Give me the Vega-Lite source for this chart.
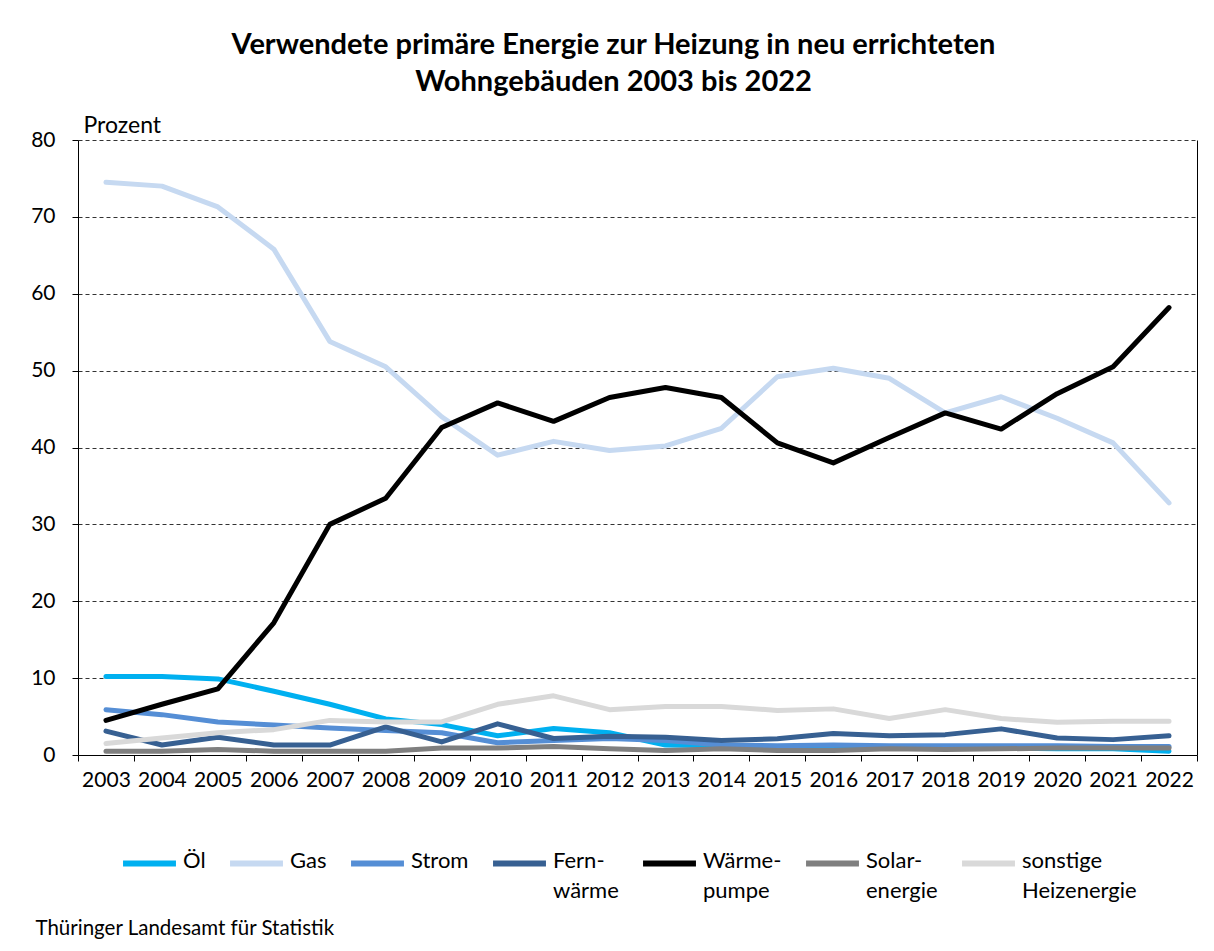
{
  "$schema": "https://vega.github.io/schema/vega-lite/v6.json",
  "width": 1119,
  "height": 615,
  "autosize": {"type": "none"},
  "padding": {"left": 78, "top": 140, "right": 17, "bottom": 196},
  "background": "white",
  "config": {
    "font": "Lato",
    "view": {"stroke": null},
    "axis": {"labelFont": "Lato", "titleFont": "Lato", "labelColor": "black", "titleColor": "black"}
  },
  "title": {
    "text": ["Verwendete primäre Energie zur Heizung in neu errichteten", "Wohngebäuden 2003 bis 2022"],
    "font": "Lato",
    "fontSize": 29,
    "fontWeight": "bold",
    "lineHeight": 37,
    "color": "black",
    "anchor": "middle",
    "dx": -24,
    "offset": 17
  },
  "data": {"values": [
    {"year": "2003", "s": "Öl", "v": 10.2}, {"year": "2004", "s": "Öl", "v": 10.2}, {"year": "2005", "s": "Öl", "v": 9.9}, {"year": "2006", "s": "Öl", "v": 8.3}, {"year": "2007", "s": "Öl", "v": 6.6}, {"year": "2008", "s": "Öl", "v": 4.7}, {"year": "2009", "s": "Öl", "v": 3.95}, {"year": "2010", "s": "Öl", "v": 2.5}, {"year": "2011", "s": "Öl", "v": 3.45}, {"year": "2012", "s": "Öl", "v": 2.9}, {"year": "2013", "s": "Öl", "v": 1.3}, {"year": "2014", "s": "Öl", "v": 1.2}, {"year": "2015", "s": "Öl", "v": 1.0}, {"year": "2016", "s": "Öl", "v": 1.2}, {"year": "2017", "s": "Öl", "v": 0.9}, {"year": "2018", "s": "Öl", "v": 0.9}, {"year": "2019", "s": "Öl", "v": 0.9}, {"year": "2020", "s": "Öl", "v": 0.8}, {"year": "2021", "s": "Öl", "v": 0.8}, {"year": "2022", "s": "Öl", "v": 0.5},
    {"year": "2003", "s": "Gas", "v": 74.5}, {"year": "2004", "s": "Gas", "v": 74.0}, {"year": "2005", "s": "Gas", "v": 71.3}, {"year": "2006", "s": "Gas", "v": 65.8}, {"year": "2007", "s": "Gas", "v": 53.8}, {"year": "2008", "s": "Gas", "v": 50.5}, {"year": "2009", "s": "Gas", "v": 44.0}, {"year": "2010", "s": "Gas", "v": 39.0}, {"year": "2011", "s": "Gas", "v": 40.8}, {"year": "2012", "s": "Gas", "v": 39.6}, {"year": "2013", "s": "Gas", "v": 40.2}, {"year": "2014", "s": "Gas", "v": 42.5}, {"year": "2015", "s": "Gas", "v": 49.2}, {"year": "2016", "s": "Gas", "v": 50.3}, {"year": "2017", "s": "Gas", "v": 49.0}, {"year": "2018", "s": "Gas", "v": 44.5}, {"year": "2019", "s": "Gas", "v": 46.6}, {"year": "2020", "s": "Gas", "v": 43.8}, {"year": "2021", "s": "Gas", "v": 40.6}, {"year": "2022", "s": "Gas", "v": 32.8},
    {"year": "2003", "s": "Strom", "v": 5.9}, {"year": "2004", "s": "Strom", "v": 5.25}, {"year": "2005", "s": "Strom", "v": 4.3}, {"year": "2006", "s": "Strom", "v": 3.9}, {"year": "2007", "s": "Strom", "v": 3.5}, {"year": "2008", "s": "Strom", "v": 3.2}, {"year": "2009", "s": "Strom", "v": 2.9}, {"year": "2010", "s": "Strom", "v": 1.6}, {"year": "2011", "s": "Strom", "v": 1.9}, {"year": "2012", "s": "Strom", "v": 2.15}, {"year": "2013", "s": "Strom", "v": 1.9}, {"year": "2014", "s": "Strom", "v": 1.3}, {"year": "2015", "s": "Strom", "v": 1.2}, {"year": "2016", "s": "Strom", "v": 1.3}, {"year": "2017", "s": "Strom", "v": 1.2}, {"year": "2018", "s": "Strom", "v": 1.2}, {"year": "2019", "s": "Strom", "v": 1.2}, {"year": "2020", "s": "Strom", "v": 1.2}, {"year": "2021", "s": "Strom", "v": 1.1}, {"year": "2022", "s": "Strom", "v": 1.1},
    {"year": "2003", "s": "Fernwärme", "v": 3.1}, {"year": "2004", "s": "Fernwärme", "v": 1.3}, {"year": "2005", "s": "Fernwärme", "v": 2.3}, {"year": "2006", "s": "Fernwärme", "v": 1.3}, {"year": "2007", "s": "Fernwärme", "v": 1.3}, {"year": "2008", "s": "Fernwärme", "v": 3.65}, {"year": "2009", "s": "Fernwärme", "v": 1.7}, {"year": "2010", "s": "Fernwärme", "v": 4.05}, {"year": "2011", "s": "Fernwärme", "v": 2.15}, {"year": "2012", "s": "Fernwärme", "v": 2.45}, {"year": "2013", "s": "Fernwärme", "v": 2.3}, {"year": "2014", "s": "Fernwärme", "v": 1.9}, {"year": "2015", "s": "Fernwärme", "v": 2.1}, {"year": "2016", "s": "Fernwärme", "v": 2.8}, {"year": "2017", "s": "Fernwärme", "v": 2.5}, {"year": "2018", "s": "Fernwärme", "v": 2.65}, {"year": "2019", "s": "Fernwärme", "v": 3.4}, {"year": "2020", "s": "Fernwärme", "v": 2.2}, {"year": "2021", "s": "Fernwärme", "v": 2.0}, {"year": "2022", "s": "Fernwärme", "v": 2.5},
    {"year": "2003", "s": "Wärmepumpe", "v": 4.5}, {"year": "2004", "s": "Wärmepumpe", "v": 6.6}, {"year": "2005", "s": "Wärmepumpe", "v": 8.6}, {"year": "2006", "s": "Wärmepumpe", "v": 17.2}, {"year": "2007", "s": "Wärmepumpe", "v": 30.0}, {"year": "2008", "s": "Wärmepumpe", "v": 33.4}, {"year": "2009", "s": "Wärmepumpe", "v": 42.6}, {"year": "2010", "s": "Wärmepumpe", "v": 45.8}, {"year": "2011", "s": "Wärmepumpe", "v": 43.4}, {"year": "2012", "s": "Wärmepumpe", "v": 46.5}, {"year": "2013", "s": "Wärmepumpe", "v": 47.8}, {"year": "2014", "s": "Wärmepumpe", "v": 46.5}, {"year": "2015", "s": "Wärmepumpe", "v": 40.6}, {"year": "2016", "s": "Wärmepumpe", "v": 38.0}, {"year": "2017", "s": "Wärmepumpe", "v": 41.3}, {"year": "2018", "s": "Wärmepumpe", "v": 44.5}, {"year": "2019", "s": "Wärmepumpe", "v": 42.4}, {"year": "2020", "s": "Wärmepumpe", "v": 47.0}, {"year": "2021", "s": "Wärmepumpe", "v": 50.5}, {"year": "2022", "s": "Wärmepumpe", "v": 58.2},
    {"year": "2003", "s": "Solarenergie", "v": 0.5}, {"year": "2004", "s": "Solarenergie", "v": 0.5}, {"year": "2005", "s": "Solarenergie", "v": 0.7}, {"year": "2006", "s": "Solarenergie", "v": 0.5}, {"year": "2007", "s": "Solarenergie", "v": 0.5}, {"year": "2008", "s": "Solarenergie", "v": 0.5}, {"year": "2009", "s": "Solarenergie", "v": 0.9}, {"year": "2010", "s": "Solarenergie", "v": 0.9}, {"year": "2011", "s": "Solarenergie", "v": 1.1}, {"year": "2012", "s": "Solarenergie", "v": 0.8}, {"year": "2013", "s": "Solarenergie", "v": 0.6}, {"year": "2014", "s": "Solarenergie", "v": 0.8}, {"year": "2015", "s": "Solarenergie", "v": 0.6}, {"year": "2016", "s": "Solarenergie", "v": 0.6}, {"year": "2017", "s": "Solarenergie", "v": 0.8}, {"year": "2018", "s": "Solarenergie", "v": 0.7}, {"year": "2019", "s": "Solarenergie", "v": 0.8}, {"year": "2020", "s": "Solarenergie", "v": 0.9}, {"year": "2021", "s": "Solarenergie", "v": 0.9}, {"year": "2022", "s": "Solarenergie", "v": 0.9},
    {"year": "2003", "s": "sonstige Heizenergie", "v": 1.5}, {"year": "2004", "s": "sonstige Heizenergie", "v": 2.2}, {"year": "2005", "s": "sonstige Heizenergie", "v": 2.9}, {"year": "2006", "s": "sonstige Heizenergie", "v": 3.3}, {"year": "2007", "s": "sonstige Heizenergie", "v": 4.5}, {"year": "2008", "s": "sonstige Heizenergie", "v": 4.3}, {"year": "2009", "s": "sonstige Heizenergie", "v": 4.3}, {"year": "2010", "s": "sonstige Heizenergie", "v": 6.6}, {"year": "2011", "s": "sonstige Heizenergie", "v": 7.7}, {"year": "2012", "s": "sonstige Heizenergie", "v": 5.9}, {"year": "2013", "s": "sonstige Heizenergie", "v": 6.3}, {"year": "2014", "s": "sonstige Heizenergie", "v": 6.3}, {"year": "2015", "s": "sonstige Heizenergie", "v": 5.8}, {"year": "2016", "s": "sonstige Heizenergie", "v": 6.0}, {"year": "2017", "s": "sonstige Heizenergie", "v": 4.75}, {"year": "2018", "s": "sonstige Heizenergie", "v": 5.9}, {"year": "2019", "s": "sonstige Heizenergie", "v": 4.75}, {"year": "2020", "s": "sonstige Heizenergie", "v": 4.25}, {"year": "2021", "s": "sonstige Heizenergie", "v": 4.4}, {"year": "2022", "s": "sonstige Heizenergie", "v": 4.4}
  ]},
  "layer": [
    {
      "mark": {"type": "line", "strokeWidth": 5, "strokeJoin": "round", "strokeCap": "round"},
      "encoding": {
        "x": {
          "field": "year", "type": "ordinal", "bandPosition": 0.5,
          "scale": {"type": "band", "paddingInner": 0, "paddingOuter": 0},
          "axis": {
            "title": "Thüringer Landesamt für Statistik",
            "titleX": -43, "titleY": 173, "titleAlign": "left", "titleBaseline": "middle",
            "titleFontSize": 20.5, "titleFontWeight": "normal",
            "labelAngle": 0, "labelFontSize": 21, "labelPadding": 8,
            "tickBand": "extent", "tickSize": 6, "tickColor": "black", "domainColor": "black",
            "grid": false
          }
        },
        "y": {
          "field": "v", "type": "quantitative",
          "scale": {"domain": [0, 80], "nice": false, "zero": true},
          "axis": {
            "values": [0, 10, 20, 30, 40, 50, 60, 70, 80],
            "title": "Prozent", "titleAngle": 0, "titleX": 5, "titleY": -15,
            "titleAlign": "left", "titleBaseline": "middle", "titleFontSize": 23, "titleFontWeight": "normal",
            "labelFontSize": 21, "labelPadding": 17, "tickSize": 6, "tickColor": "black", "domainColor": "black",
            "grid": true, "gridColor": "#333333", "gridDash": [4, 3], "gridWidth": 1
          }
        },
        "color": {
          "field": "s", "type": "nominal",
          "scale": {
            "domain": ["Öl", "Gas", "Strom", "Fernwärme", "Wärmepumpe", "Solarenergie", "sonstige Heizenergie"],
            "range": ["#00b0f0", "#c6d9f1", "#558ed5", "#376092", "#000000", "#7f7f7f", "#d9d9d9"]
          },
          "legend": {
            "title": null, "orient": "none", "legendX": 42, "legendY": 694,
            "direction": "horizontal", "columns": 7, "columnPadding": 12, "gridAlign": "none",
            "symbolType": "stroke", "symbolSize": 2800, "symbolStrokeWidth": 6,
            "labelFontSize": 22, "labelFont": "Lato", "labelColor": "black", "labelOffset": 4,
            "labelLimit": 300, "labelBaseline": "top",
            "labelExpr": "datum.label == 'Fernwärme' ? ['Fern-', 'wärme'] : datum.label == 'Wärmepumpe' ? ['Wärme-', 'pumpe'] : datum.label == 'Solarenergie' ? ['Solar-', 'energie'] : datum.label == 'sonstige Heizenergie' ? ['sonstige', 'Heizenergie'] : [datum.label, '']",
            "encode": {"labels": {"update": {"dy": {"value": -13}, "lineHeight": {"value": 30}}}}
          }
        }
      }
    },
    {
      "mark": {"type": "line", "opacity": 0},
      "encoding": {
        "x": {"field": "year", "type": "ordinal", "bandPosition": 0.5},
        "y": {
          "field": "v", "type": "quantitative",
          "axis": {"orient": "right", "labels": false, "ticks": false, "title": null, "grid": false, "domainColor": "black"}
        }
      }
    }
  ],
  "resolve": {"axis": {"y": "independent"}}
}
